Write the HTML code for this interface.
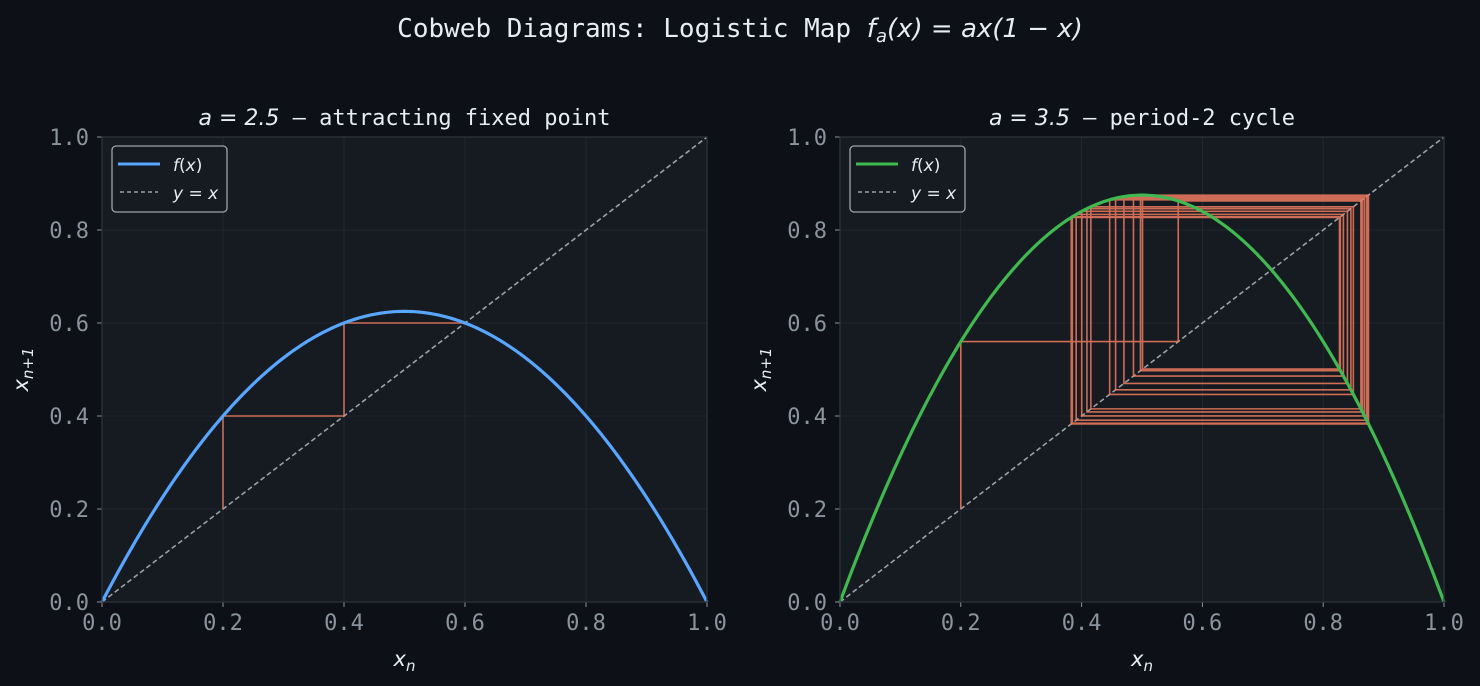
<!DOCTYPE html>
<html><head><meta charset="utf-8"><style>
html,body{margin:0;padding:0;background:#0d1117;}
svg{display:block}
text{font-family:"DejaVu Sans Mono","Liberation Mono",monospace;}
.it{font-family:"DejaVu Sans","Liberation Sans",sans-serif;font-style:italic;}
</style></head><body>
<svg id="s" width="1480" height="686" xmlns="http://www.w3.org/2000/svg">
<rect width="1480" height="686" fill="#0d1117"/>
<text x="740" y="37" fill="#e6edf3" font-size="26" text-anchor="middle">Cobweb Diagrams: Logistic Map <tspan class="it">f</tspan><tspan class="it" font-size="18" dy="5">a</tspan><tspan class="it" dy="-5">(x) = ax</tspan><tspan class="it" font-style="normal">(1 − </tspan><tspan class="it">x</tspan><tspan class="it" font-style="normal">)</tspan></text>
<g id="g"></g>
</svg>
<script>
const g=document.getElementById('g');let h='';
function panel(X0,W,a,col,title){
 const Y0=137,H=465;
 const px=x=>X0+x*W, py=y=>Y0+H-y*H;
 h+=`<rect x="${X0}" y="${Y0}" width="${W}" height="${H}" fill="#161b22"/>`;
 for(let i=0;i<=5;i++){const t=i/5;
  h+=`<line x1="${px(t)}" y1="${Y0}" x2="${px(t)}" y2="${Y0+H}" stroke="#252b33" stroke-width="0.8"/>`;
  h+=`<line x1="${X0}" y1="${py(t)}" x2="${X0+W}" y2="${py(t)}" stroke="#252b33" stroke-width="0.8"/>`;
  h+=`<line x1="${px(t)}" y1="${Y0+H}" x2="${px(t)}" y2="${Y0+H+5}" stroke="#8b949e"/>`;
  h+=`<line x1="${X0-5}" y1="${py(t)}" x2="${X0}" y2="${py(t)}" stroke="#8b949e"/>`;
  h+=`<text x="${px(t)}" y="${Y0+H+28}" fill="#8b949e" font-size="22" text-anchor="middle">${t.toFixed(1)}</text>`;
  h+=`<text x="${X0-13}" y="${py(t)+8}" fill="#8b949e" font-size="22" text-anchor="end">${t.toFixed(1)}</text>`;
 }
 h+=`<line x1="${px(0)}" y1="${py(0)}" x2="${px(1)}" y2="${py(1)}" stroke="#9aa0a6" stroke-width="1.6" stroke-dasharray="5,3"/>`;
 let x=0.2,d=`M${px(x)},${py(x)}`;
 const n=a>3?60:20;
 for(let i=0;i<n;i++){const y=a*x*(1-x);d+=`L${px(x)},${py(y)}L${px(y)},${py(y)}`;x=y;}
 h+=`<path d="${d}" fill="none" stroke="#ef7a5e" stroke-opacity="0.85" stroke-width="1.6"/>`;
 let c='';for(let i=0;i<=300;i++){const t=i/300;c+=(i?'L':'M')+px(t)+','+py(a*t*(1-t));}
 h+=`<path d="${c}" fill="none" stroke="${col}" stroke-width="3.2"/>`;
 h+=`<rect x="${X0}" y="${Y0}" width="${W}" height="${H}" fill="none" stroke="#30363d" stroke-width="1.2"/>`;
 h+=`<text x="${X0+W/2}" y="125" fill="#e6edf3" font-size="22" text-anchor="middle"><tspan class="it">a</tspan><tspan class="it" font-style="normal"> = ${a}</tspan> — ${title}</text>`;
 h+=`<text x="${X0+W/2}" y="666" fill="#e6edf3" font-size="21" text-anchor="middle" class="it">x<tspan font-size="15" dy="5">n</tspan></text>`;
 h+=`<text transform="translate(${X0-74},${Y0+H/2}) rotate(-90)" fill="#e6edf3" font-size="21" text-anchor="middle" class="it">x<tspan font-size="15" dy="5">n+1</tspan></text>`;
 const lx=X0+10,ly=146;
 h+=`<rect x="${lx}" y="${ly}" width="115" height="66" rx="4" fill="#161b22" stroke="#a0a4a8" stroke-width="1.3"/>`;
 h+=`<line x1="${lx+6}" y1="${ly+18}" x2="${lx+48}" y2="${ly+18}" stroke="${col}" stroke-width="3"/>`;
 h+=`<line x1="${lx+8}" y1="${ly+46}" x2="${lx+46}" y2="${ly+46}" stroke="#9aa0a6" stroke-width="1.5" stroke-dasharray="4,3"/>`;
 h+=`<text x="${lx+61}" y="${ly+25}" fill="#e6edf3" font-size="17" class="it">f<tspan font-style="normal">(</tspan>x<tspan font-style="normal">)</tspan></text>`;
 h+=`<text x="${lx+61}" y="${ly+53}" fill="#e6edf3" font-size="17" class="it">y = x</text>`;
}
panel(102,605,2.5,'#58a6ff','attracting fixed point');
panel(840,604,3.5,'#3fb950','period-2 cycle');
g.innerHTML=h;
</script>
</body></html>
